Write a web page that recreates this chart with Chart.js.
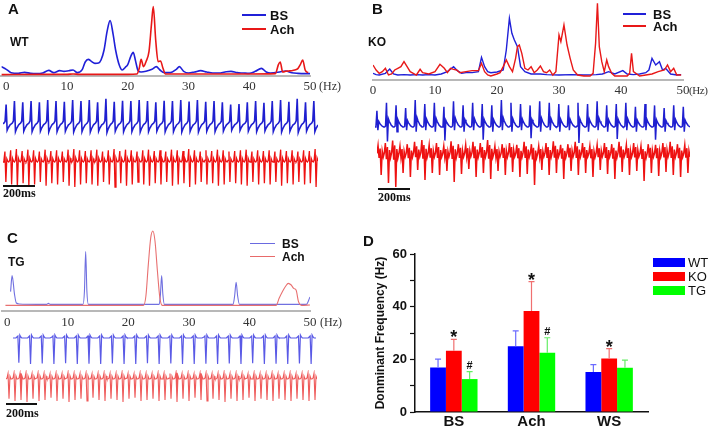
<!DOCTYPE html>
<html>
<head>
<meta charset="utf-8">
<script src="https://cdn.jsdelivr.net/npm/chart.js@4.4.0/dist/chart.umd.min.js"></script>
<style>
body{margin:0;background:#fff;width:709px;height:428px;position:relative;overflow:hidden;font-family:Arial,"Liberation Sans",sans-serif}
canvas{position:absolute}
.t{position:absolute;white-space:nowrap;line-height:1;color:#111}
.b{font-weight:bold}
.lab{font-size:15px;font-weight:bold}
.hz{font-family:"Liberation Serif","DejaVu Serif",serif;font-size:12px;color:#333}
.ms{font-family:"Liberation Serif","DejaVu Serif",serif;font-size:12px;font-weight:bold}
.ln{position:absolute}
</style>
</head>
<body>
<canvas id="specA" width="330" height="95" style="left:0;top:0"></canvas>
<canvas id="trAB" width="315" height="40" style="left:3px;top:97px"></canvas>
<canvas id="trAR" width="315" height="45" style="left:3px;top:145px"></canvas>
<canvas id="specB" width="349" height="100" style="left:360px;top:0"></canvas>
<canvas id="trBB" width="315" height="50" style="left:375px;top:97px"></canvas>
<canvas id="trBR" width="313" height="53" style="left:377px;top:137px"></canvas>
<canvas id="specC" width="330" height="105" style="left:0;top:225px"></canvas>
<canvas id="trCB" width="303" height="35" style="left:13px;top:333px"></canvas>
<canvas id="trCR" width="311" height="36" style="left:6px;top:370px"></canvas>
<canvas id="barD" width="344" height="203" style="left:365px;top:225px"></canvas>

<!-- panel A text -->
<div class="t lab" style="left:8px;top:1px">A</div>
<div class="t b" style="left:10px;top:36px;font-size:12px">WT</div>
<div class="ln" style="left:242px;top:14px;width:24px;height:2px;background:#2020d8"></div>
<div class="ln" style="left:242px;top:28px;width:24px;height:2px;background:#e81818"></div>
<div class="t b" style="left:270px;top:9px;font-size:13px">BS</div>
<div class="t b" style="left:270px;top:23px;font-size:13px">Ach</div>
<div class="t hz" style="left:319px;top:80px">(Hz)</div>
<div class="ln" style="left:3px;top:185px;width:32px;height:1.5px;background:#111"></div>
<div class="t ms" style="left:3px;top:187px">200ms</div>

<!-- panel B text -->
<div class="t lab" style="left:372px;top:1px">B</div>
<div class="t b" style="left:368px;top:36px;font-size:12px">KO</div>
<div class="ln" style="left:623px;top:13px;width:23px;height:2px;background:#2020d8"></div>
<div class="ln" style="left:623px;top:25px;width:23px;height:2px;background:#e81818"></div>
<div class="t b" style="left:653px;top:8px;font-size:13px">BS</div>
<div class="t b" style="left:653px;top:20px;font-size:13px">Ach</div>
<div class="t hz" style="left:689px;top:85px;font-size:11px;letter-spacing:-0.4px">(Hz)</div>
<div class="ln" style="left:378px;top:188px;width:32px;height:1.5px;background:#111"></div>
<div class="t ms" style="left:378px;top:191px">200ms</div>

<!-- panel C text -->
<div class="t lab" style="left:7px;top:230px">C</div>
<div class="t b" style="left:8px;top:256px;font-size:12px">TG</div>
<div class="ln" style="left:250px;top:243px;width:25px;height:1.3px;background:#6a6ae0"></div>
<div class="ln" style="left:250px;top:256px;width:25px;height:1.3px;background:#e86a6a"></div>
<div class="t b" style="left:282px;top:238px;font-size:12px">BS</div>
<div class="t b" style="left:282px;top:251px;font-size:12px">Ach</div>
<div class="t hz" style="left:320px;top:316px">(Hz)</div>
<div class="ln" style="left:6px;top:403px;width:31px;height:1.5px;background:#111"></div>
<div class="t ms" style="left:6px;top:407px">200ms</div>

<!-- panel D text -->
<div class="t lab" style="left:363px;top:233px">D</div>
<div class="ln" style="left:653px;top:258px;width:32px;height:9px;background:#0000ff"></div>
<div class="ln" style="left:653px;top:272px;width:32px;height:9px;background:#ff0000"></div>
<div class="ln" style="left:653px;top:286px;width:32px;height:9px;background:#00ff00"></div>
<div class="t" style="left:688px;top:256px;font-size:13px">WT</div>
<div class="t" style="left:688px;top:270px;font-size:13px">KO</div>
<div class="t" style="left:688px;top:284px;font-size:13px">TG</div>

<script>
// ---- spectra: frequency (Hz) and power (arbitrary units) ----
var aBlueHz = [-0.8,0,0.8,2,3,4,5,6,7,7.8,8.8,9.5,10.3,11,11.7,12.5,13,13.5,14,14.6,15.2,15.6,16.1,16.6,17.1,17.6,18,18.6,19.1,19.6,20,20.5,20.9,21.3,21.7,22.2,23,24,24.7,25.3,26,27,28,28.5,29.2,30,31,32,33,34,35,36,37,38,39,40,41,42,42.8,43.5,45,46,47,48,49,50];
var aBluePow = [24,16,6,4,7,4,3,5,13,6,12,10,12,14,6,15,38,46,40,34,35,44,74,130,162,120,74,29,14,22,30,55,67,40,12,8,10,16,24,14,6,6,16,24,10,5,8,12,8,5,5,8,10,6,5,4,10,19,8,5,8,11,6,4,3,3];
var aRedHz = [-0.8,5,10,11,12,15,20,21.5,21.9,22.2,22.6,23.0,23.5,23.9,24.2,24.6,25.0,25.4,25.8,26.2,27,30,35,40,44.3,44.8,45.1,45.5,46,46.5,47,47.5,48,48.4,48.8,49.2,49.7];
var aRedPow = [0,1,1,2,1,1,1,2,20,46,24,39,70,150,204,104,39,41,19,2,2,2,2,2,3,30,38,8,10,11,12,14,18,30,44,14,6];

var bBlueHz = [0,0.5,1,2,2.7,3.3,4,5,6,7,8,9,10,11,12,13,13.6,14.3,15,16,17,17.5,18,18.5,19,20,21,21.5,22,22.4,22.8,23.3,23.8,24.5,25.5,27,28,30,32,34,36,37,38,39,40.3,41,42,43,44,44.5,45,45.6,46.2,46.7,47.2,48,49,49.7];
var bBluePow = [8,4,3,8,21,6,3,4,3,4,3,4,3,6,13,28,16,8,10,10,13,56,28,13,10,12,18,78,173,128,108,88,28,13,6,6,4,3,4,3,4,6,13,6,16,6,4,6,10,18,53,33,43,18,23,6,3,4];
var bRedHz = [0,0.5,1,1.5,2,2.5,3,3.5,4,4.5,5,5.5,6,7,7.6,8,9,10,10.8,11.5,12,12.5,13,13.5,14,15,16,17,17.5,18,18.5,19,20,20.5,21,21.5,22,22.5,23,23.3,23.6,24,24.5,25,25.5,26,26.5,27,27.5,28,28.5,29,29.5,30,30.3,30.8,31.3,31.8,32.3,33,34,35,35.5,35.9,36.2,36.5,36.9,37.3,37.7,38,38.5,39,40,41,41.4,41.7,42,43,44,45,46,47,47.5,48,48.5,49,49.7];
var bRedPow = [33,18,8,13,23,3,6,18,23,28,43,28,13,3,20,10,6,13,35,23,10,23,20,18,10,13,16,16,38,13,3,0,6,10,28,48,28,13,53,88,93,68,23,18,28,10,18,30,13,10,18,3,13,123,103,153,93,53,18,3,0,0,8,98,218,88,43,13,48,28,8,0,0,0,8,68,13,0,3,6,13,18,33,13,23,3,3];

var cBlueHz = [0.55,0.8,1.2,1.5,2,5,6.5,6.8,7.1,12.5,12.75,12.95,13.15,13.4,25.1,25.3,25.5,25.7,25.95,37.3,37.55,37.8,38.05,38.35,49.4,50];
var cBluePow = [38,86,30,4,1,0,0,3,0,0,40,158,40,0,0,30,86,30,0,0,25,66,25,0,0,22];
var cRedHz = [-0.3,22.5,22.9,23.3,23.7,24.05,24.4,24.8,25.2,25.6,44.4,44.9,45.5,46.0,46.4,46.9,47.3,47.7,48.1,48.6,50];
var cRedPow = [-3,-3,25,120,200,220,190,100,20,-3,-3,18,40,55,63,58,48,43,8,-3,-2];

// ---- recordings: one beat shape (px from baseline) and the size of every beat ----
var aBlueShape = [-1,0,2,23,-9,-6,-4,-2];
var aBlueAmp = [0.8,0.95,0.9,0.95,0.9,1.0,0.95,0.92,1.0,0.95,1.0,0.9,1.05,0.92,0.97,0.95,1.0,0.95,0.9,0.97,0.95,1.0,0.93,1.0,0.92,0.95,0.9,0.8,0.82,0.9,0.95,0.88,0.95,1.0,0.92,1.05,0.9,0.95];
var aRedShape = [0,2,13,-25,4,1];
var aRedAmp = [0.8,0.9,1.0,0.85,0.95,0.9,0.8,0.95,0.85,0.9,0.8,0.95,1.0,0.9,0.85,0.9,0.95,0.8,0.9,1.0,0.85,0.95,0.9,0.8,0.9,0.95,0.85,0.9,0.8,0.95,0.9,0.85,1.0,0.9,0.8,0.9,0.85,0.95,0.9,0.8,0.85,0.9,0.95,0.8,0.9,0.85,0.9,0.8,0.95,0.85,0.9,0.8,0.9,0.85,1.0];
var bBlueShape = [0,1,27,-16,9,6,4,2,1,0];
var bBlueUp = [0.6,0.9,0.8,0.7,1.0,0.85,0.9,0.75,0.95,0.8,0.9,0.85,0.8,1.0,0.9,0.85,0.8,0.95,0.9,0.85,0.8,0.9,0.85,0.95,0.8,0.85,0.9,0.75,0.85,0.8,0.7,0.8,0.75];
var bBlueDown = [0.2,0.9,0.3,0.2,0.3,0.2,0.3,0.85,0.2,0.3,0.2,0.8,0.3,0.2,0.3,0.2,0.7,0.3,0.2,0.3,0.2,1.0,0.3,0.2,0.3,0.75,0.2,0.3,0.2,0.8,0.3,0.2,0.3];
var bRedShape = [2,12,-3,8,-20,5,-2];
var bRedUp = [0.8,1.0,1.2,0.75,0.9,1.1,1.25,0.85,1.0,0.75,1.15,0.9,0.85,1.1,1.0,1.25,0.75,0.9,1.0,0.85,1.1,0.9,0.75,1.0,1.15,0.85,0.9,1.1,1.0,0.75,0.85,1.0,0.9,1.1,0.85,1.0,0.75,0.9,0.85,1.0,1.1,0.9,0.85];
var bRedDown = [1.0,1.4,1.6,0.9,1.1,0.75,1.25,0.9,1.0,0.8,1.35,0.95,0.7,1.1,0.9,1.2,0.8,1.0,0.85,1.1,0.95,1.5,0.75,1.0,0.9,1.2,0.8,1.0,0.9,1.1,0.75,0.95,1.2,0.85,1.0,0.8,1.3,0.9,1.05,0.85,1.0,1.1,0.9];
var cBlueShape = [0,0,0,0,1,2,-26,3,1,0,0,0];
var cBlueAmp = [0.95,1,0.98,1,0.97,1,0.99,1,0.98,1,1,0.97,1,0.98,1,1,0.99,1,0.98,1,0.97,1,0.99,1,0.98,1];
var cRedShape = [0,1,6,-22,3,0];
var cRedAmp = [0.9,1.0,0.95,1.05,0.9,1.0,0.95,0.85,1.0,0.9,1.05,0.95,0.9,1.0,0.85,0.95,1.0,0.9,0.95,1.05,0.9,0.85,1.0,0.95,0.9,1.0,0.95,0.9,1.05,0.9,1.0,0.85,0.95,1.0,0.9,0.95,1.05,0.9,1.0,0.95,0.85,1.0,0.9,0.95,1.0,0.9,0.95,1.0,0.9,0.95,1.0,0.95];

// ---- panel D: dominant frequency (Hz) ----
var groups = ['BS', 'Ach', 'WS'];
var wtMean = [16.9, 25.0, 15.2];
var koMean = [23.3, 38.4, 20.3];
var tgMean = [12.5, 22.5, 16.8];
var wtErr = [3.2, 5.8, 2.8];
var koErr = [4.3, 11.1, 3.8];
var tgErr = [2.8, 5.7, 2.9];
var koMarks = ['*', '*', '*'];
var tgMarks = ['#', '#', ''];

function pts(xs, ys) {
    return xs.map(function (x, i) { return {x: x, y: ys[i]}; });
}

// repeat the beat shape, positive part scaled by up[i], negative part by down[i]
function beats(shape, up, down) {
    var out = [];
    up.forEach(function (u, i) {
        shape.forEach(function (s) { out.push(s >= 0 ? s * u : s * down[i]); });
    });
    return out.map(function (v, i) { return {x: i, y: v}; });
}

var serif = '"Liberation Serif", "DejaVu Serif", serif';

function spectrum(id, blue, red, o) {
    new Chart(document.getElementById(id), {
        type: 'line',
        data: {datasets: [
            {data: red, borderColor: o.red, borderWidth: o.lw, pointRadius: 0, tension: 0,
             cubicInterpolationMode: o.smooth ? 'monotone' : 'default'},
            {data: blue, borderColor: o.blue, borderWidth: o.lw, pointRadius: 0, tension: 0,
             cubicInterpolationMode: o.smooth ? 'monotone' : 'default'}
        ]},
        options: {
            animation: false, responsive: false, events: [],
            layout: {padding: o.pad},
            plugins: {legend: {display: false}, tooltip: {enabled: false}},
            scales: {
                x: {type: 'linear', min: o.xmin, max: 50,
                    ticks: {stepSize: 10, includeBounds: false, autoSkip: false, maxRotation: 0,
                            padding: o.tp, color: '#333', font: {family: serif, size: 13}},
                    grid: {display: false, drawTicks: false},
                    border: {color: '#b8b8b8', width: 2},
                    afterFit: function (s) { s.height = o.axisH; }},
                y: {display: false, min: o.ymin, max: o.ymax}
            }
        }
    });
}

function trace(id, data, color, lw, ymin, ymax) {
    new Chart(document.getElementById(id), {
        type: 'line',
        data: {datasets: [{data: data, borderColor: color, borderWidth: lw, pointRadius: 0, tension: 0}]},
        options: {
            animation: false, responsive: false, events: [],
            layout: {padding: 0},
            plugins: {legend: {display: false}, tooltip: {enabled: false}},
            scales: {
                x: {type: 'linear', display: false, min: 0, max: data.length - 1},
                y: {display: false, min: ymin, max: ymax}
            }
        }
    });
}

spectrum('specA', pts(aBlueHz, aBluePow), pts(aRedHz, aRedPow),
    {blue: '#2020d8', red: '#e81818', lw: 1.6, smooth: true, xmin: -0.8,
     pad: {top: 5, right: 20, left: 0, bottom: 0}, axisH: 19, tp: 3, ymin: -4, ymax: 209});
spectrum('specB', pts(bBlueHz, bBluePow), pts(bRedHz, bRedPow),
    {blue: '#2020d8', red: '#e81818', lw: 1.4, smooth: false, xmin: 0,
     pad: {top: 3, right: 26, left: 13, bottom: 0}, axisH: 20, tp: 3, ymin: -12, ymax: 219});
spectrum('specC', pts(cBlueHz, cBluePow), pts(cRedHz, cRedPow),
    {blue: '#7070e0', red: '#e87070', lw: 1.1, smooth: true, xmin: -0.8,
     pad: {top: 3, right: 20, left: 0, bottom: 0}, axisH: 19, tp: 4, ymin: -20, ymax: 229});

trace('trAB', beats(aBlueShape, aBlueAmp, aBlueAmp), '#1f1fd0', 1.6, -14, 26);
trace('trAR', beats(aRedShape, aRedAmp, aRedAmp), '#ee1111', 1.3, -28, 17);
trace('trBB', beats(bBlueShape, bBlueUp, bBlueDown), '#1f1fd0', 1.5, -20, 30);
trace('trBR', beats(bRedShape, bRedUp, bRedDown), '#ee1111', 1.5, -35, 18);
trace('trCB', beats(cBlueShape, cBlueAmp, cBlueAmp), '#5a5ae6', 1.2, -30, 5);
trace('trCR', beats(cRedShape, cRedAmp, cRedAmp), '#ef5a5a', 1.1, -27, 9);

// error bars and significance marks for panel D
var errorBars = {
    id: 'errorBars',
    afterDatasetsDraw: function (chart) {
        var ctx = chart.ctx, ys = chart.scales.y;
        chart.data.datasets.forEach(function (ds, di) {
            chart.getDatasetMeta(di).data.forEach(function (bar, i) {
                var top = ys.getPixelForValue(ds.data[i] + ds.errors[i]);
                ctx.save();
                ctx.strokeStyle = ds.errColor;
                ctx.lineWidth = 1.2;
                ctx.beginPath();
                ctx.moveTo(bar.x, bar.y);
                ctx.lineTo(bar.x, top);
                ctx.moveTo(bar.x - 3, top);
                ctx.lineTo(bar.x + 3, top);
                ctx.stroke();
                var m = ds.marks[i];
                if (m) {
                    ctx.fillStyle = '#111';
                    ctx.textAlign = 'center';
                    if (m === '*') {
                        ctx.font = 'bold 18px Arial';
                        ctx.fillText(m, bar.x, top + 4);
                    } else {
                        ctx.font = 'bold 11px Arial';
                        ctx.fillText(m, bar.x, top - 3);
                    }
                }
                ctx.restore();
            });
        });
    }
};

new Chart(document.getElementById('barD'), {
    type: 'bar',
    data: {
        labels: groups,
        datasets: [
            {label: 'WT', data: wtMean, backgroundColor: '#0000ff', errColor: '#6b6bff', errors: wtErr, marks: ['', '', ''],
             categoryPercentage: 0.61, barPercentage: 1.0},
            {label: 'KO', data: koMean, backgroundColor: '#ff0000', errColor: '#f07070', errors: koErr, marks: koMarks,
             categoryPercentage: 0.61, barPercentage: 1.0},
            {label: 'TG', data: tgMean, backgroundColor: '#00ff00', errColor: '#66ee66', errors: tgErr, marks: tgMarks,
             categoryPercentage: 0.61, barPercentage: 1.0}
        ]
    },
    options: {
        animation: false, responsive: false, events: [],
        layout: {padding: {top: 29, right: 61, left: 0, bottom: 0}},
        plugins: {legend: {display: false}, tooltip: {enabled: false}},
        scales: {
            x: {
                ticks: {color: '#111', padding: 2, font: {family: 'Arial', size: 15, weight: 'bold', lineHeight: 1}},
                grid: {display: false, drawTicks: false},
                border: {color: '#111', width: 1.5},
                afterFit: function (s) { s.height = 16; }
            },
            y: {
                min: 0, max: 60,
                ticks: {stepSize: 10, padding: 3, color: '#111', font: {family: 'Arial', size: 13, weight: 'bold'},
                        callback: function (v) { return v % 20 === 0 ? v : ''; }},
                grid: {drawOnChartArea: false, drawTicks: true, tickLength: 5, tickColor: '#111', tickWidth: 1.2},
                border: {color: '#111', width: 1.5},
                title: {display: true, text: 'Donminant Frequency (Hz)', color: '#111',
                        font: {family: 'Arial', size: 12, weight: 'bold'}, padding: {top: 8, bottom: 0}},
                afterFit: function (s) { s.width = 50; }
            }
        }
    },
    plugins: [errorBars]
});
</script>
</body>
</html>
